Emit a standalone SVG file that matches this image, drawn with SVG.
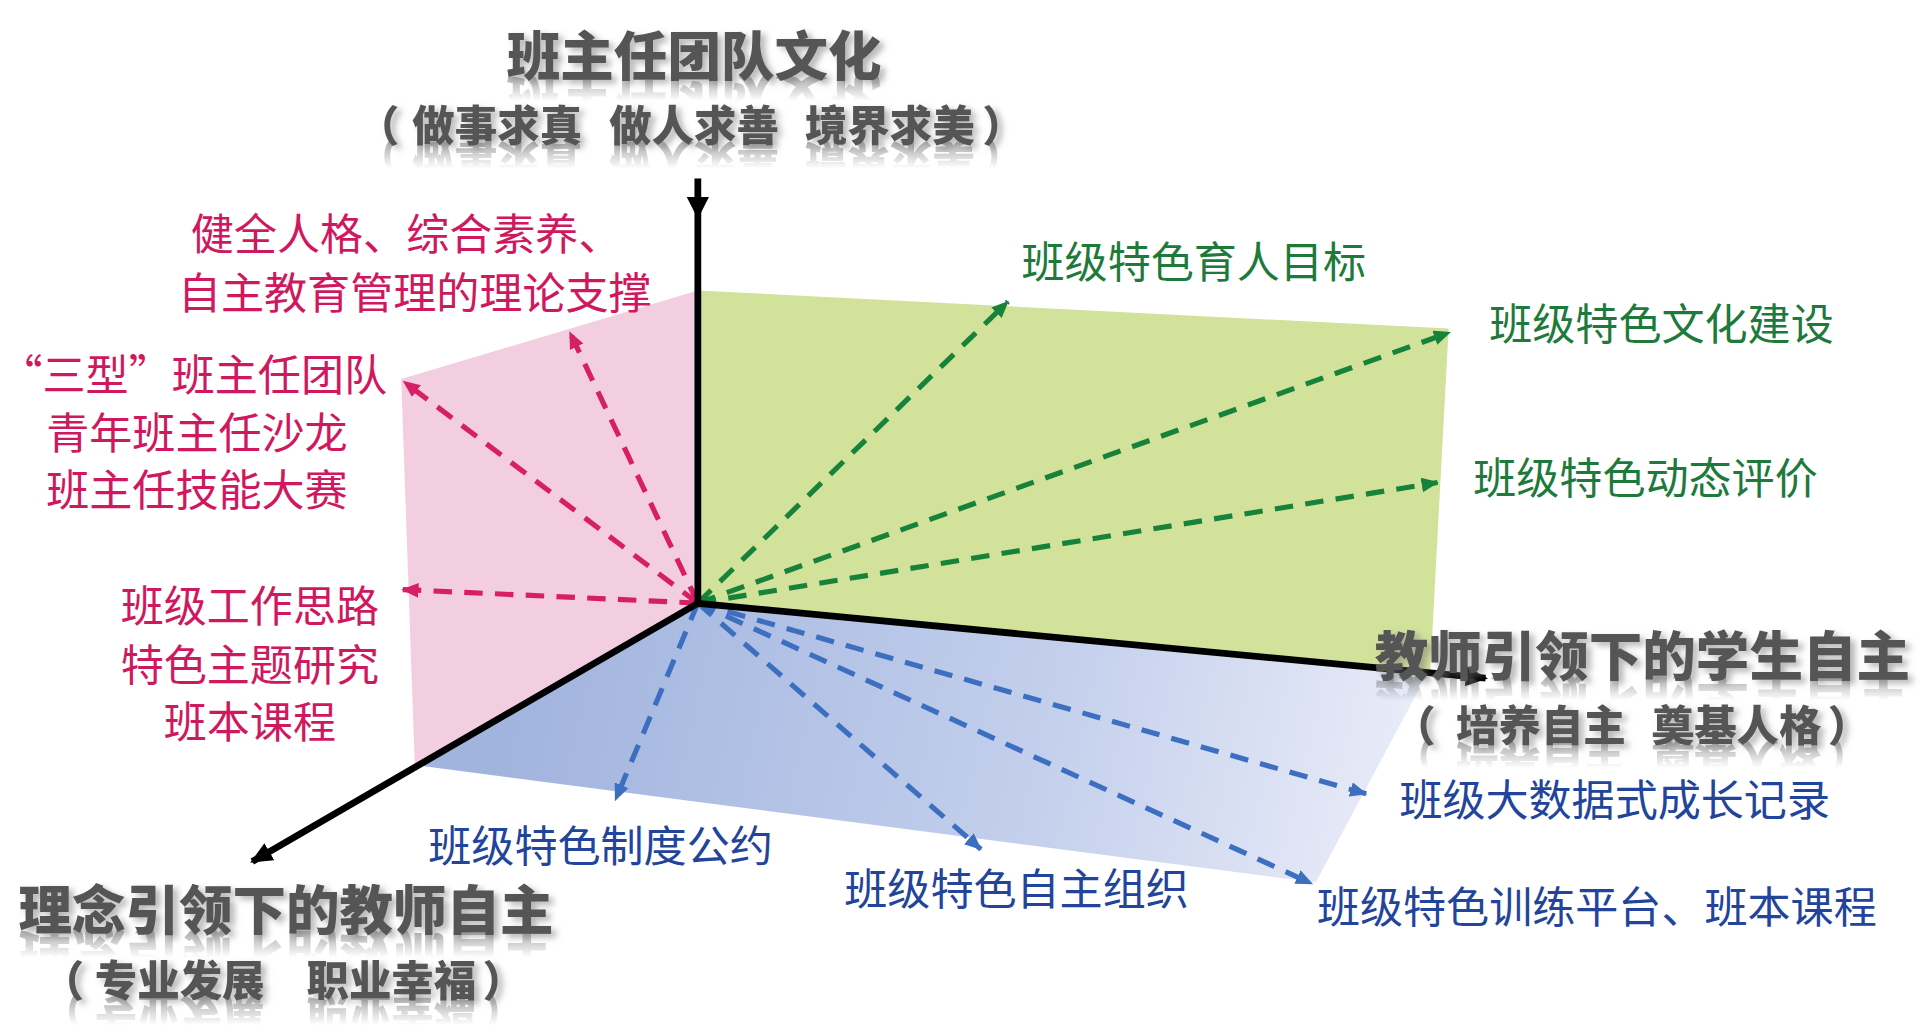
<svg xmlns="http://www.w3.org/2000/svg" xmlns:xlink="http://www.w3.org/1999/xlink" width="1920" height="1036" viewBox="0 0 1920 1036">
<style>
.lbl{font-family:"Noto Sans CJK SC","Noto Sans",sans-serif;font-size:35px;font-weight:400}
.g{fill:#1d7a3b}
.p{fill:#d0185f}
.b{fill:#22449a}
.ttl{font-family:"Noto Sans CJK SC","Noto Sans",sans-serif;font-weight:900;fill:#555555}
.axis{stroke:#000;stroke-width:5.5;fill:none}
.dg{stroke:#17833a;stroke-width:4.2;stroke-dasharray:15 10;fill:none}
.dp{stroke:#d61f67;stroke-width:4.2;stroke-dasharray:15 10;fill:none}
.db{stroke:#3d6fc0;stroke-width:4.2;stroke-dasharray:15 10;fill:none}
</style>
<defs>
<marker id="mg" viewBox="0 0 14 12" refX="13" refY="6" markerWidth="14" markerHeight="12" markerUnits="userSpaceOnUse" orient="auto"><path d="M0,0 L14,6 L0,12 Z" fill="#17833a"/></marker>
<marker id="mp" viewBox="0 0 14 12" refX="13" refY="6" markerWidth="14" markerHeight="12" markerUnits="userSpaceOnUse" orient="auto"><path d="M0,0 L14,6 L0,12 Z" fill="#d61f67"/></marker>
<marker id="mb" viewBox="0 0 14 12" refX="13" refY="6" markerWidth="14" markerHeight="12" markerUnits="userSpaceOnUse" orient="auto"><path d="M0,0 L14,6 L0,12 Z" fill="#3d6fc0"/></marker>
<marker id="mk" viewBox="0 0 18 16" refX="16" refY="8" markerWidth="18" markerHeight="16" markerUnits="userSpaceOnUse" orient="auto"><path d="M0,0 L18,8 L0,16 Z" fill="#000"/></marker>
<linearGradient id="blueg" gradientUnits="userSpaceOnUse" x1="420" y1="540" x2="1120" y2="700">
<stop offset="0" stop-color="#a1b4de"/>
<stop offset="0.6" stop-color="#c3cfec"/>
<stop offset="1" stop-color="#e8ebf8"/>
</linearGradient>
<linearGradient id="rg" x1="0" y1="0" x2="0" y2="1">
<stop offset="0" stop-color="#fff" stop-opacity="0.5"/>
<stop offset="1" stop-color="#fff" stop-opacity="0"/>
</linearGradient>
<mask id="m1" maskUnits="userSpaceOnUse" x="0" y="0" width="1560" height="842"><rect x="0" y="62" width="1560" height="20" fill="url(#rg)"/></mask>
<mask id="m2" maskUnits="userSpaceOnUse" x="0" y="0" width="1560" height="842"><rect x="0" y="115" width="1560" height="22" fill="url(#rg)"/></mask>
<mask id="m3" maskUnits="userSpaceOnUse" x="0" y="0" width="1560" height="842"><rect x="0" y="549" width="1560" height="20" fill="url(#rg)"/></mask>
<mask id="m4" maskUnits="userSpaceOnUse" x="0" y="0" width="1560" height="842"><rect x="0" y="602" width="1560" height="22" fill="url(#rg)"/></mask>
<mask id="m5" maskUnits="userSpaceOnUse" x="0" y="0" width="1560" height="842"><rect x="0" y="756" width="1560" height="22" fill="url(#rg)"/></mask>
<mask id="m6" maskUnits="userSpaceOnUse" x="0" y="0" width="1560" height="842"><rect x="0" y="809" width="1560" height="24" fill="url(#rg)"/></mask>
<filter id="sh" x="-10%" y="-30%" width="125%" height="180%">
<feDropShadow dx="4" dy="3" stdDeviation="2.5" flood-color="#777" flood-opacity="0.55"/>
</filter>
</defs>
<g transform="scale(1.230769)">
<g id="panels">
<polygon id="panel-green" points="567,236 1177,267 1162,547 567,490" fill="#d2e29b"/>
<polygon id="panel-pink" points="567,236 326,308 337,622 567,490" fill="#f3cde0"/>
<polygon id="panel-blue" points="567,490 340,622 1069,717 1160,547" fill="url(#blueg)"/>
</g>
<g id="connectors">
<line class="dg" x1="567" y1="490" x2="819" y2="245" marker-end="url(#mg)"/>
<line class="dg" x1="567" y1="490" x2="1178" y2="270" marker-end="url(#mg)"/>
<line class="dg" x1="567" y1="490" x2="1168" y2="392" marker-end="url(#mg)"/>
<line class="dp" x1="567" y1="490" x2="463" y2="270" marker-end="url(#mp)"/>
<line class="dp" x1="567" y1="490" x2="328" y2="310" marker-end="url(#mp)"/>
<line class="dp" x1="567" y1="490" x2="327" y2="479" marker-end="url(#mp)"/>
<line class="db" x1="567" y1="490" x2="500" y2="650" marker-end="url(#mb)"/>
<line class="db" x1="567" y1="490" x2="797" y2="690" marker-end="url(#mb)"/>
<line class="db" x1="567" y1="490" x2="1110" y2="645" marker-end="url(#mb)"/>
<line class="db" x1="567" y1="490" x2="1066" y2="718" marker-end="url(#mb)"/>
<g id="axes">
<line class="axis" x1="567" y1="145" x2="567" y2="492"/>
<polygon points="558,160 576,160 567,178" fill="#000"/>
<line class="axis" x1="565" y1="490" x2="1207" y2="551" marker-end="url(#mk)"/>
<line class="axis" x1="569" y1="489" x2="205" y2="700" marker-end="url(#mk)"/>
</g>
</g>
<g id="node-top">
<g mask="url(#m1)"><use xlink:href="#t1" href="#t1" transform="translate(0,123) scale(1,-1)"/></g>
<g mask="url(#m2)"><use xlink:href="#t2" href="#t2" transform="translate(0,229) scale(1,-1)"/></g>
<g filter="url(#sh)">
<text id="t1" class="ttl" x="564" y="61.5" font-size="43.5" text-anchor="middle">班主任团队文化</text>
<text id="t2" class="ttl" y="114.5" font-size="34.5"><tspan x="290">（</tspan><tspan x="335">做事求真</tspan><tspan x="495">做人求善</tspan><tspan x="654">境界求美</tspan><tspan x="798">）</tspan></text>
</g>
</g>
<g id="node-right">
<g mask="url(#m3)"><use xlink:href="#t3" href="#t3" transform="translate(0,1098) scale(1,-1)"/></g>
<g mask="url(#m4)"><use xlink:href="#t4" href="#t4" transform="translate(0,1204) scale(1,-1)"/></g>
<g filter="url(#sh)">
<text id="t3" class="ttl" x="1117" y="549" font-size="43.5">教师引领下的学生自主</text>
<text id="t4" class="ttl" y="602" font-size="34.5"><tspan x="1132">（</tspan><tspan x="1183">培养自主</tspan><tspan x="1342">奠基人格</tspan><tspan x="1485">）</tspan></text>
</g>
</g>
<g id="node-left">
<g mask="url(#m5)"><use xlink:href="#t5" href="#t5" transform="translate(0,1512) scale(1,-1)"/></g>
<g mask="url(#m6)"><use xlink:href="#t6" href="#t6" transform="translate(0,1618) scale(1,-1)"/></g>
<g filter="url(#sh)">
<text id="t5" class="ttl" x="15" y="756" font-size="43.5">理念引领下的教师自主</text>
<text id="t6" class="ttl" y="809" font-size="34.5"><tspan x="34">（</tspan><tspan x="77">专业发展</tspan><tspan x="249">职业幸福</tspan><tspan x="392">）</tspan></text>
</g>
</g>
<g id="node-green-1"><text class="lbl g" x="830" y="226">班级特色育人目标</text></g>
<g id="node-green-2"><text class="lbl g" x="1210" y="276">班级特色文化建设</text></g>
<g id="node-green-3"><text class="lbl g" x="1197" y="401">班级特色动态评价</text></g>
<g id="node-pink-1"><text class="lbl p" text-anchor="middle"><tspan x="330" y="203">健全人格、综合素养、</tspan><tspan x="337" y="251">自主教育管理的理论支撑</tspan></text></g>
<g id="node-pink-2"><text class="lbl p" text-anchor="middle"><tspan x="157" y="318">“三型”班主任团队</tspan><tspan x="160" y="365">青年班主任沙龙</tspan><tspan x="160" y="411">班主任技能大赛</tspan></text></g>
<g id="node-pink-3"><text class="lbl p" text-anchor="middle"><tspan x="203" y="505">班级工作思路</tspan><tspan x="203" y="553">特色主题研究</tspan><tspan x="203" y="600">班本课程</tspan></text></g>
<g id="node-blue-1"><text class="lbl b" x="348" y="700">班级特色制度公约</text></g>
<g id="node-blue-2"><text class="lbl b" x="686" y="735">班级特色自主组织</text></g>
<g id="node-blue-3"><text class="lbl b" x="1137" y="663">班级大数据式成长记录</text></g>
<g id="node-blue-4"><text class="lbl b" x="1070" y="750">班级特色训练平台、班本课程</text></g>
</g>
</svg>
